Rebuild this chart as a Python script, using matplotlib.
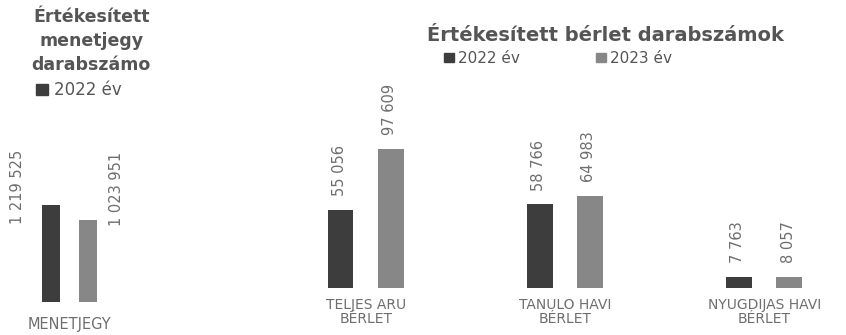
import matplotlib
matplotlib.use("Agg")
import matplotlib.pyplot as plt
import numpy as np
from matplotlib.patches import Patch

# left panel: single-ticket sales
menet_cat = ["MENETJEGY"]
menet_2022 = [1219525]
menet_2023 = [1023951]

# right panel: pass sales
berlet_cat = ["TELJES ARU\nBÉRLET", "TANULO HAVI\nBÉRLET", "NYUGDIJAS HAVI\nBÉRLET"]
berlet_2022 = [55056, 58766, 7763]
berlet_2023 = [97609, 64983, 8057]

c22 = "#3d3d3d"
c23 = "#878787"
txt = "#555555"
lbl = "#6e6e6e"


def fmt(v):
    return f"{v:,}".replace(",", " ")


def main():
    plt.rcParams["font.family"] = ["DejaVu Sans"]
    fig = plt.figure(figsize=(8.46, 3.35), dpi=100)
    fig.patch.set_facecolor("white")

    # ---- left chart
    ax1 = fig.add_axes([0.0, 0.0985, 0.165, 0.515])
    x = np.arange(len(menet_cat))
    w = 0.13
    b1 = ax1.bar(x - 0.132, menet_2022, w, color=c22)
    b2 = ax1.bar(x + 0.132, menet_2023, w, color=c23)
    ax1.set_xlim(-0.5, 0.5)
    ax1.set_ylim(0, 2160000)
    for r in b1:
        ax1.annotate(fmt(int(r.get_height())), (r.get_x(), r.get_height()),
                     xytext=(-18, -14), textcoords="offset points",
                     rotation=90, ha="center", va="bottom", fontsize=10.5, color=lbl)
    for r in b2:
        ax1.annotate(fmt(int(r.get_height())), (r.get_x() + r.get_width(), r.get_height()),
                     xytext=(14, -4), textcoords="offset points",
                     rotation=90, ha="center", va="bottom", fontsize=10.5, color=lbl)
    ax1.set_xticks(x)
    ax1.set_xticklabels(menet_cat, fontsize=10.5, color=lbl)
    ax1.tick_params(length=0, pad=11)
    ax1.set_yticks([])
    for s in ax1.spines.values():
        s.set_visible(False)
    fig.text(0.108, 0.975, "Értékesített\nmenetjegy\ndarabszámo", ha="center", va="top",
             fontsize=12.5, fontweight="bold", color=txt, linespacing=1.4)
    fig.legend(handles=[Patch(color=c22, label="2022 év")], loc="center left",
               bbox_to_anchor=(0.025, 0.73), frameon=False, fontsize=12,
               handlelength=0.7, handleheight=0.7, handletextpad=0.4, labelcolor=txt)

    # ---- right chart
    ax2 = fig.add_axes([0.3144, 0.14, 0.6856, 0.62])
    x = np.arange(len(berlet_cat))
    w = 0.13
    b1 = ax2.bar(x - 0.126, berlet_2022, w, color=c22)
    b2 = ax2.bar(x + 0.126, berlet_2023, w, color=c23)
    ax2.set_xlim(-0.5, 2.41)
    ax2.set_ylim(0, 146000)
    for bars in (b1, b2):
        for r in bars:
            ax2.annotate(fmt(int(r.get_height())),
                         (r.get_x() + r.get_width() / 2, r.get_height()),
                         xytext=(-1, 10), textcoords="offset points",
                         rotation=90, ha="center", va="bottom", fontsize=10.5, color=lbl)
    ax2.set_xticks(x)
    ax2.set_xticklabels(berlet_cat, fontsize=10, color=lbl, linespacing=1.0)
    ax2.tick_params(length=0, pad=7)
    ax2.set_yticks([])
    for s in ax2.spines.values():
        s.set_visible(False)
    fig.text(0.716, 0.895, "Értékesített bérlet darabszámok", ha="center", va="center",
             fontsize=14, fontweight="bold", color=txt)
    fig.legend(handles=[Patch(color=c22, label="2022 év"), Patch(color=c23, label="2023 év")],
               loc="center", bbox_to_anchor=(0.66, 0.826), ncol=2, frameon=False,
               fontsize=11, handlelength=0.6, handleheight=0.6, handletextpad=0.3,
               columnspacing=5.0, labelcolor=txt)

    fig.savefig("out.png", dpi=100, facecolor="white")


main()
